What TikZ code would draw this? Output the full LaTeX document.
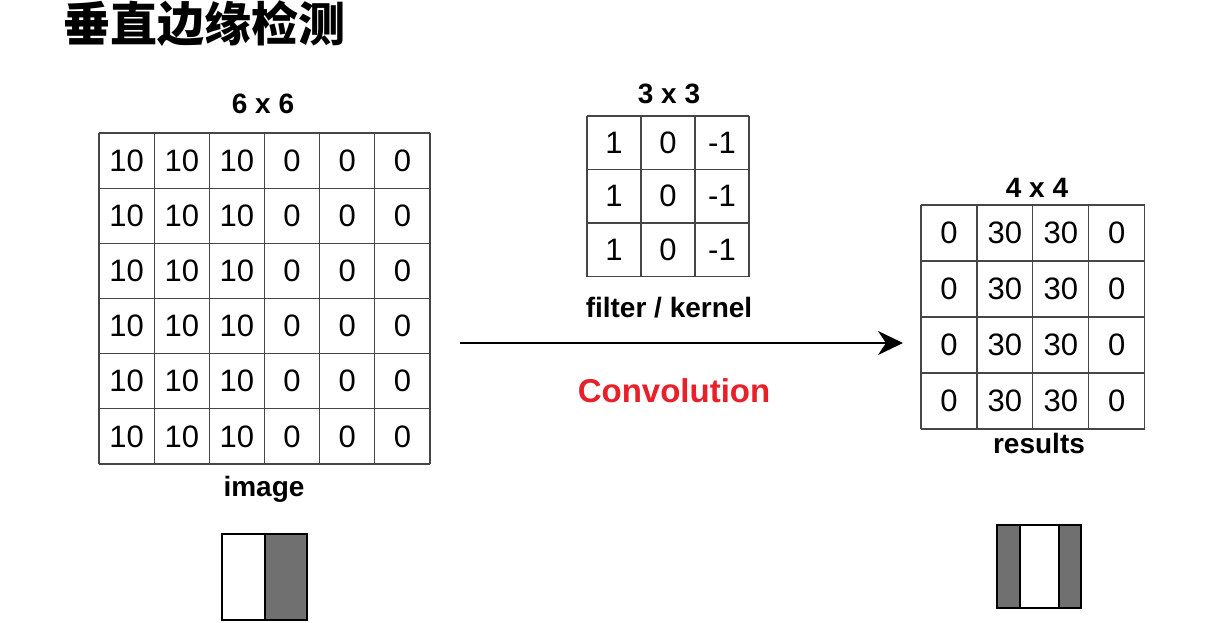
\documentclass[tikz,border=0pt]{standalone}
\usepackage{fontspec}
\setmainfont{Liberation Sans}
\newfontfamily\cjk{Noto Sans CJK SC}
\usetikzlibrary{arrows.meta}
\definecolor{convred}{RGB}{232,32,42}
\definecolor{boxgray}{RGB}{112,112,112}
\definecolor{gridline}{RGB}{70,70,70}
\begin{document}
\begin{tikzpicture}[x=1pt,y=-1pt,
  cell/.style={minimum width=#1, minimum height=#1,
    inner sep=0pt, anchor=center, font=\fontsize{31}{31}\selectfont},
  gridstyle/.style={draw=gridline, line width=1.2pt},
  lbl/.style={font=\bfseries\fontsize{28}{28}\selectfont, inner sep=0pt, anchor=base},
  thickbox/.style={draw=black, line width=2.8pt},
]
\useasboundingbox (0,0) rectangle (1228,622);
% title
\node[font=\cjk\bfseries\fontsize{47}{47}\selectfont, inner sep=0pt] (title) at (204,24) {垂直边缘检测};
% image grid 6x6
\foreach \r in {1,...,6}
  \foreach \c/\v in {1/10,2/10,3/10,4/0,5/0,6/0}
    \node[cell=55.17pt] (img-\r-\c) at ({99+55.17*(\c-0.5)},{133+55.17*(\r-0.5)}) {\v};
\foreach \i in {0,...,6} {
  \draw[gridstyle] ({99+55.17*\i},133) -- ({99+55.17*\i},464);
  \draw[gridstyle] (99,{133+55.17*\i}) -- (430,{133+55.17*\i});
}
\node[lbl] (imgsize) at (263,113) {6 x 6};
\node[lbl] (imglbl) at (264,496) {image};
% filter 3x3
\foreach \r in {1,...,3}
  \foreach \c/\v in {1/1,2/0,3/-1}
    \node[cell=54pt] (flt-\r-\c) at ({587+54*(\c-0.5)},{116+53.5*(\r-0.5)}) {\v};
\foreach \i in {0,...,3} {
  \draw[gridstyle] ({587+54*\i},116) -- ({587+54*\i},276.5);
  \draw[gridstyle] (587,{116+53.5*\i}) -- (749,{116+53.5*\i});
}
\node[lbl] (fltsize) at (669,103) {3 x 3};
\node[lbl] (fltlbl) at (669,317) {filter / kernel};
% result 4x4
\foreach \r in {1,...,4}
  \foreach \c/\v in {1/0,2/30,3/30,4/0}
    \node[cell=55.9pt] (res-\r-\c) at ({921+55.9*(\c-0.5)},{205+56*(\r-0.5)}) {\v};
\foreach \i in {0,...,4} {
  \draw[gridstyle] ({921+55.9*\i},205) -- ({921+55.9*\i},429);
  \draw[gridstyle] (921,{205+56*\i}) -- (1144.6,{205+56*\i});
}
\node[lbl] (ressize) at (1037,197) {4 x 4};
\node[lbl] (reslbl) at (1039,453) {results};
% arrow
\coordinate (arrS) at (460,343);
\coordinate (arrE) at (903,343);
\draw[line width=2.6pt, -{Stealth[length=25pt,width=24pt,inset=8pt]}] (arrS) -- (arrE);
\node[font=\bfseries\fontsize{33}{33}\selectfont, text=convred, inner sep=0pt, anchor=base] (conv) at (674,402) {Convolution};
% bottom-left box
\fill[boxgray] (265,534) rectangle (307,620);
\draw[thickbox] (222,534) rectangle (307,620);
\draw[thickbox] (265,534) -- (265,620);
% bottom-right box
\fill[boxgray] (997,525) rectangle (1020,608);
\fill[boxgray] (1059,525) rectangle (1081,608);
\draw[thickbox] (997,525) rectangle (1081,608);
\draw[thickbox] (1020,525) -- (1020,608);
\draw[thickbox] (1059,525) -- (1059,608);
\end{tikzpicture}
\end{document}
